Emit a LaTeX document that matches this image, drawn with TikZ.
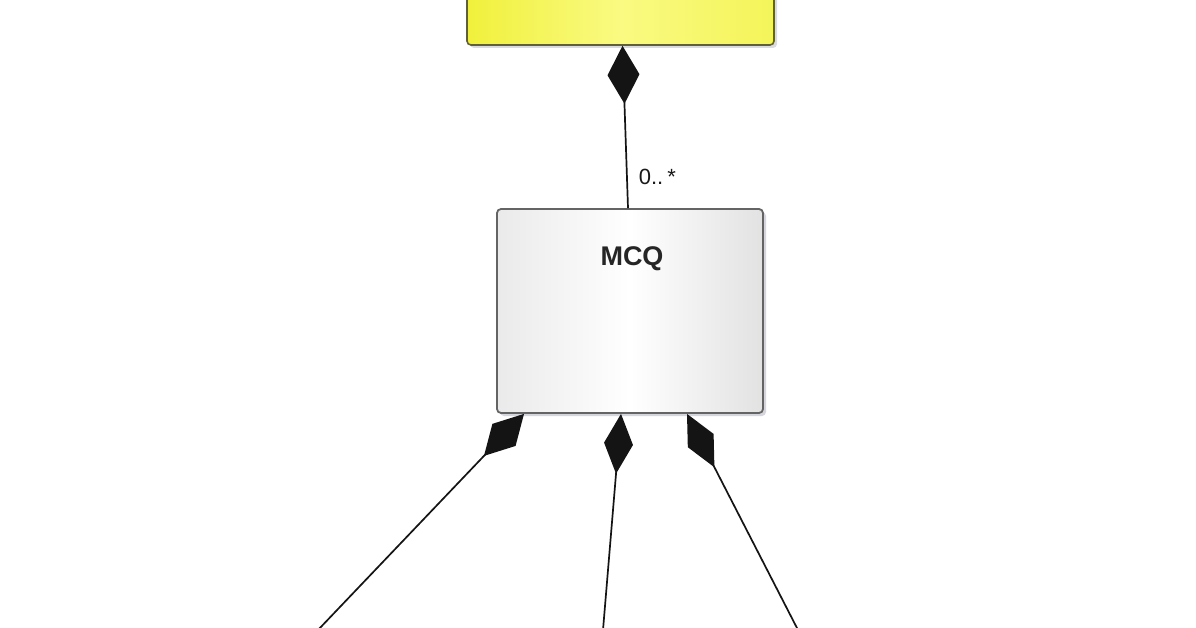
\documentclass[tikz,border=0pt]{standalone}
\usepackage{fontspec}
\setmainfont{Liberation Sans}
\usetikzlibrary{arrows.meta,shadows}
\definecolor{yelL}{RGB}{240,240,60}
\definecolor{yelM}{RGB}{250,250,130}
\definecolor{yelR}{RGB}{244,244,90}
\definecolor{yelB}{RGB}{95,95,60}
\definecolor{boxB}{RGB}{100,100,100}
\definecolor{boxL}{RGB}{234,234,234}
\definecolor{boxR}{RGB}{226,226,226}
\definecolor{lnC}{RGB}{20,20,20}
\definecolor{shd}{RGB}{150,150,170}
\tikzset{
  ybox/.style={draw=yelB, line width=1.6pt, rounded corners=4pt,
    left color=yelL, right color=yelR, middle color=yelM,
    drop shadow={opacity=0.35, fill=shd, shadow xshift=3pt, shadow yshift=-3pt},
    minimum width=307pt, minimum height=110pt, inner sep=0pt},
  mbox/.style={draw=boxB, line width=1.8pt, rounded corners=4pt,
    left color=boxL, right color=boxR, middle color=white,
    drop shadow={opacity=0.4, fill=shd, shadow xshift=3pt, shadow yshift=-3pt},
    minimum width=266pt, minimum height=204pt, inner sep=0pt},
  ttl/.style={font=\bfseries\fontsize{27}{30}\selectfont, text=black!85, inner sep=0pt},
  mult/.style={font=\fontsize{22}{24}\selectfont, text=black!90, inner sep=0pt},
  comp/.style={draw=lnC, line width=1.7pt, -{Diamond[length=58pt,width=32pt]}},
  compn/.style={draw=lnC, line width=1.7pt, -{Diamond[length=60pt,width=29pt]}}
}
\begin{document}
\begin{tikzpicture}[x=1pt,y=-1pt]
\useasboundingbox (0,0) rectangle (1196,628);
\clip (0,0) rectangle (1196,628);
\fill[white] (0,0) rectangle (1196,628);
\node[ybox] (cls) at (620.5,-10) {};
\node[mbox] (mcq) at (630,311) {};
\node[ttl] (mcqt) at (632,259) {MCQ};
\coordinate (e1) at (318,630);
\coordinate (e2) at (603,630);
\coordinate (e3) at (798,630);
\draw[comp] ([xshift=-2pt]mcq.north) -- node[mult, pos=0.19, anchor=west, xshift=11pt] (m0) {0..\kern4pt*} ([xshift=2pt]cls.south);
\draw[comp] (e1) -- ([xshift=-106pt]mcq.south);
\draw[compn] (e2) -- ([xshift=-9pt]mcq.south);
\draw[compn] (e3) -- ([xshift=57pt]mcq.south);
\end{tikzpicture}
\end{document}
